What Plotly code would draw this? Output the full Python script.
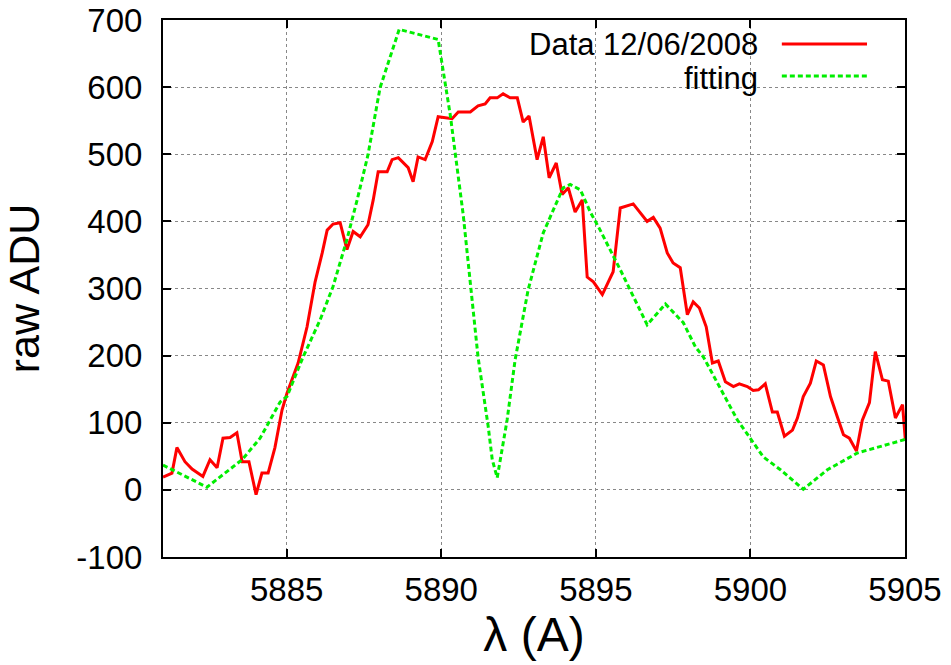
import plotly.graph_objects as go

# Observed spectrum (wavelength in Angstrom, raw ADU)
data_wl = [5881.00, 5881.29, 5881.45, 5881.71, 5881.94, 5882.29, 5882.52, 5882.75, 5882.94, 5883.17,
           5883.39, 5883.56, 5883.78, 5884.01, 5884.20, 5884.40, 5884.62, 5884.85, 5885.01, 5885.21,
           5885.37, 5885.66, 5885.92, 5886.15, 5886.31, 5886.50, 5886.73, 5886.95, 5887.15, 5887.38,
           5887.63, 5887.80, 5887.96, 5888.25, 5888.41, 5888.61, 5888.93, 5889.09, 5889.25, 5889.48,
           5889.71, 5889.90, 5890.19, 5890.35, 5890.55, 5890.94, 5891.19, 5891.42, 5891.58, 5891.81,
           5892.00, 5892.23, 5892.46, 5892.65, 5892.84, 5893.10, 5893.30, 5893.49, 5893.72, 5893.91,
           5894.11, 5894.33, 5894.56, 5894.72, 5894.92, 5895.21, 5895.56, 5895.79, 5896.21, 5896.66,
           5896.86, 5897.08, 5897.31, 5897.50, 5897.73, 5897.96, 5898.15, 5898.35, 5898.57, 5898.77,
           5898.96, 5899.19, 5899.45, 5899.64, 5899.90, 5900.09, 5900.26, 5900.48, 5900.71, 5900.87,
           5901.10, 5901.36, 5901.52, 5901.71, 5901.94, 5902.13, 5902.36, 5902.59, 5902.81, 5903.01,
           5903.20, 5903.43, 5903.62, 5903.85, 5904.04, 5904.27, 5904.46, 5904.69, 5904.92, 5905.01]
data_adu = [19, 25, 63, 42, 31, 20, 45, 33, 77, 78,
            85, 42, 42, -7, 25, 25, 63, 119, 144, 168,
            189, 243, 310, 353, 387, 396, 398, 358, 385, 377,
            395, 432, 474, 474, 492, 495, 480, 459, 496, 492,
            519, 556, 554, 553, 563, 563, 572, 575, 584, 584,
            590, 584, 584, 548, 557, 492, 526, 465, 487, 440,
            450, 414, 432, 317, 310, 291, 325, 420, 426, 400,
            406, 390, 353, 338, 331, 261, 280, 271, 243, 189,
            192, 161, 154, 158, 154, 148, 149, 158, 116, 116,
            80, 89, 107, 139, 159, 192, 186, 139, 109, 82,
            77, 58, 104, 130, 206, 164, 162, 107, 127, 75]

# Fitted model
fit_wl = [5881.00, 5882.42, 5883.56, 5884.14, 5884.79, 5885.01, 5885.53, 5886.08, 5886.50, 5886.95,
          5887.28, 5887.63, 5888.02, 5888.44, 5888.64, 5889.90, 5890.29, 5890.71, 5890.94, 5891.19,
          5891.52, 5891.65, 5891.81, 5892.13, 5892.39, 5892.81, 5893.30, 5893.78, 5893.94, 5894.17,
          5894.50, 5894.82, 5895.14, 5895.79, 5896.21, 5896.66, 5897.25, 5897.83, 5898.22, 5898.48,
          5899.58, 5900.42, 5900.97, 5901.71, 5902.49, 5903.46, 5905.00]
fit_adu = [37, 4, 45, 77, 131, 139, 198, 253, 303, 373,
           432, 499, 599, 659, 686, 671, 559, 410, 308, 198,
           94, 45, 18, 104, 194, 298, 383, 432, 450, 455,
           447, 414, 387, 328, 288, 246, 277, 249, 213, 198,
           104, 49, 30, 1, 30, 55, 75]

x_ticks = [5885, 5890, 5895, 5900, 5905]
y_ticks = [-100, 0, 100, 200, 300, 400, 500, 600, 700]

legend_labels = ["Data 12/06/2008", "fitting"]

FONT = "Liberation Sans, Arial, sans-serif"

fig = go.Figure()
fig.add_trace(go.Scatter(x=data_wl, y=data_adu, mode="lines", name=legend_labels[0],
                         line=dict(color="#ff0000", width=3), showlegend=False))
fig.add_trace(go.Scatter(x=fit_wl, y=fit_adu, mode="lines", name=legend_labels[1],
                         line=dict(color="#00ee00", width=3, dash="5px,3px"), showlegend=False))

axis_common = dict(
    showline=True, linecolor="black", linewidth=2, mirror="allticks",
    ticks="inside", ticklen=8, tickwidth=1.5, tickcolor="black",
    showgrid=True, gridcolor="#888888", gridwidth=1, griddash="dot",
    zeroline=False, automargin=False,
    tickfont=dict(family=FONT, size=33, color="black"),
)

fig.update_xaxes(range=[5881, 5905], tickvals=x_ticks, ticktext=[str(v) for v in x_ticks],
                 title=dict(text="λ (A)", font=dict(family=FONT, size=48, color="black"), standoff=2),
                 ticklabelstandoff=2, **axis_common)
fig.update_yaxes(range=[-100, 700], tickvals=y_ticks, ticktext=[str(v) for v in y_ticks],
                 title=dict(text="raw ADU", font=dict(family=FONT, size=43, color="black"), standoff=23),
                 ticklabelstandoff=12, **axis_common)

# Key box (gnuplot-style, sample on the right of the label)
fig.add_shape(type="rect", xref="paper", yref="paper", x0=0.4164, x1=0.9704, y0=0.866, y1=0.998,
              fillcolor="white", line=dict(width=0), layer="between")
fig.add_annotation(xref="paper", yref="paper", x=0.8045, y=0.9553, text=legend_labels[0],
                   showarrow=False, xanchor="right", yanchor="middle",
                   font=dict(family=FONT, size=31, color="black"))
fig.add_annotation(xref="paper", yref="paper", x=0.8045, y=0.8917, text=legend_labels[1],
                   showarrow=False, xanchor="right", yanchor="middle",
                   font=dict(family=FONT, size=31, color="black"))
fig.add_shape(type="line", xref="paper", yref="paper", x0=0.834, x1=0.9488, y0=0.9553, y1=0.9553,
              line=dict(color="#ff0000", width=3))
fig.add_shape(type="line", xref="paper", yref="paper", x0=0.834, x1=0.9488, y0=0.8957, y1=0.8957,
              line=dict(color="#00ee00", width=3, dash="5px,3px"))

fig.update_layout(
    width=951, height=665,
    margin=dict(l=163, r=46, t=20, b=108),
    paper_bgcolor="white", plot_bgcolor="white",
    font=dict(family=FONT, color="black"),
)

fig.write_html("out.html", config={"displayModeBar": False},
               post_script="document.body.style.margin='0';document.body.style.overflow='hidden';")
